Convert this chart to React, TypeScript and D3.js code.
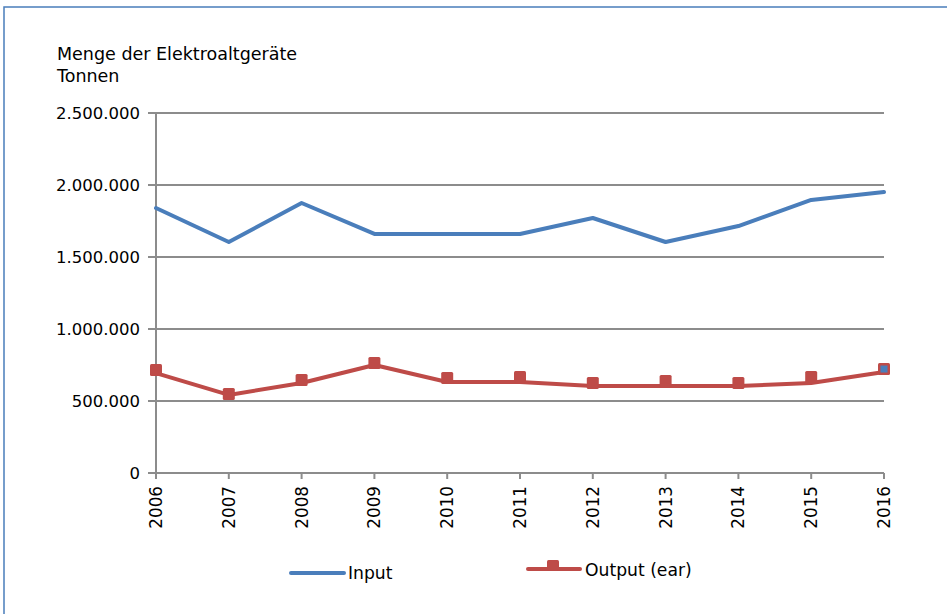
import React from "react";
import * as d3 from "d3";

const years = [2006, 2007, 2008, 2009, 2010, 2011, 2012, 2013, 2014, 2015, 2016];
const inputValues = [1840000, 1604000, 1875000, 1660000, 1660000, 1660000, 1771000, 1604000, 1715000, 1896000, 1951000];
const outputLineValues = [694000, 542000, 625000, 750000, 632000, 632000, 604000, 604000, 604000, 625000, 701000];
const outputMarkerValues = [715000, 549000, 646000, 764000, 660000, 667000, 625000, 639000, 625000, 667000, 722000];
const yTicks = [0, 500000, 1000000, 1500000, 2000000, 2500000];
const titleLines = ["Menge der Elektroaltgeräte", "Tonnen"];
const legendLabels = ["Input", "Output (ear)"];

const BLUE = "#4a7ebb";
const RED = "#be4b48";
const GRID = "#8c8c8c";
const FONT = "DejaVu Sans, sans-serif";

export default function App() {
  const W = 947, H = 614;
  const left = 156, right = 884, top = 113, bottom = 473;
  const x = d3.scalePoint<number>().domain(years).range([left, right]);
  const y = d3.scaleLinear().domain([0, 2500000]).range([bottom, top]);
  const fmt = (v: number) => d3.format(",")(v).replace(/,/g, ".");
  const line = d3.line<number>().x((_, i) => x(years[i])!).y((d) => y(d));

  return (
    <svg width={W} height={H} style={{ position: "absolute", left: 0, top: 0, background: "#fff" }}>
      <rect x={4} y={7} width={W + 20} height={H + 20} fill="#fff" stroke={BLUE} strokeWidth={1.5} />
      {titleLines.map((t, i) => (
        <text key={t} x={57} y={60 + i * 22} fontFamily={FONT} fontSize={17.5} fill="#000">{t}</text>
      ))}
      {yTicks.map((v) => (
        <g key={v}>
          <line x1={left} x2={right} y1={y(v)} y2={y(v)} stroke={GRID} strokeWidth={2} />
          <line x1={left - 8} x2={left} y1={y(v)} y2={y(v)} stroke={GRID} strokeWidth={2} />
          <text x={left - 16} y={y(v)} dy="0.36em" textAnchor="end" fontFamily={FONT} fontSize={16.5} fill="#000">{fmt(v)}</text>
        </g>
      ))}
      <line x1={left} x2={left} y1={top} y2={bottom + 6} stroke={GRID} strokeWidth={2} />
      {years.map((yr) => (
        <g key={yr}>
          <line x1={x(yr)} x2={x(yr)} y1={bottom} y2={bottom + 6} stroke={GRID} strokeWidth={2} />
          <text transform={`translate(${x(yr)! + 6},${bottom + 13}) rotate(-90)`} textAnchor="end" fontFamily={FONT} fontSize={16.8} fill="#000">{yr}</text>
        </g>
      ))}
      <path d={line(inputValues)!} fill="none" stroke={BLUE} strokeWidth={4} strokeLinejoin="round" strokeLinecap="round" />
      <path d={line(outputLineValues)!} fill="none" stroke={RED} strokeWidth={4} strokeLinejoin="round" strokeLinecap="round" />
      {outputMarkerValues.map((v, i) => (
        <rect key={i} x={x(years[i])! - 6} y={y(v) - 6} width={12} height={12} rx={1.5} fill={RED} />
      ))}
      <rect x={x(2016)! - 3.5} y={y(outputMarkerValues[10]) - 3.5} width={7} height={7} fill={BLUE} />
      {/* legend */}
      <line x1={291} x2={344} y1={573} y2={573} stroke={BLUE} strokeWidth={4} strokeLinecap="round" />
      <text x={348} y={579} fontFamily={FONT} fontSize={17.2} fill="#000">{legendLabels[0]}</text>
      <line x1={528} x2={580} y1={569} y2={569} stroke={RED} strokeWidth={4} strokeLinecap="round" />
      <rect x={547} y={560} width={12} height={11} rx={1.5} fill={RED} />
      <text x={585} y={576} fontFamily={FONT} fontSize={17.2} fill="#000">{legendLabels[1]}</text>
    </svg>
  );
}
